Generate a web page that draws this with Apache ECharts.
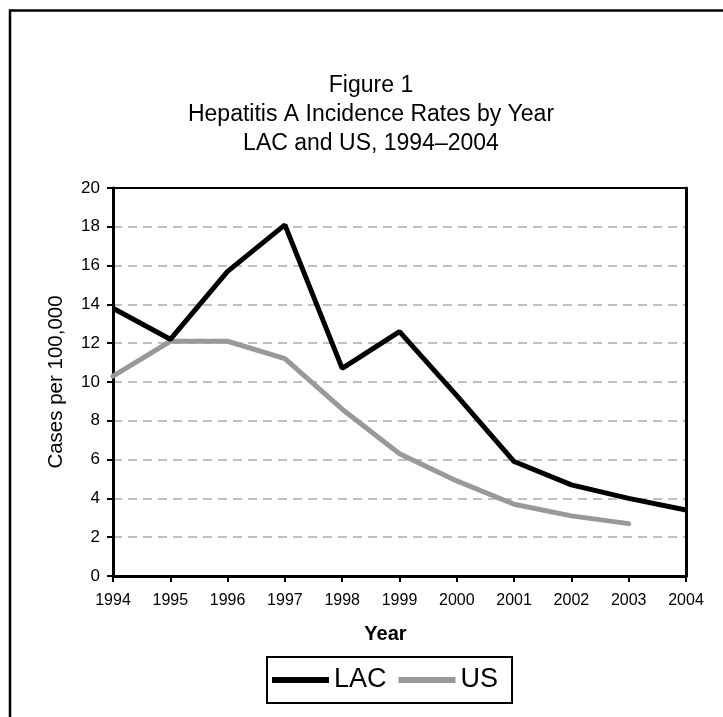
<!DOCTYPE html>
<html>
<head>
<meta charset="utf-8">
<script src="https://cdn.jsdelivr.net/npm/echarts@6/dist/echarts.min.js"></script>
<style>
  html, body { margin: 0; padding: 0; background: #fff; }
  #chart { width: 723px; height: 717px; }
</style>
</head>
<body>
<div id="chart"></div>
<script>
const years = ['1994', '1995', '1996', '1997', '1998', '1999', '2000', '2001', '2002', '2003', '2004']
const lacRates = [13.8, 12.2, 15.7, 18.1, 10.7, 12.6, 9.3, 5.9, 4.7, 4.0, 3.4]
const usRates = [10.3, 12.1, 12.1, 11.2, 8.6, 6.3, 4.9, 3.7, 3.1, 2.7, null]
const titleLines = ['Figure 1', 'Hepatitis A Incidence Rates by Year', 'LAC and US, 1994\u20132004']

const font = 'Liberation Sans, Arial, sans-serif'
const chart = echarts.init(document.getElementById('chart'))

const option = {
  animation: false,
  backgroundColor: '#fff',
  textStyle: { fontFamily: font },
  title: {
    text: titleLines.join('\n'),
    left: 371,
    textAlign: 'center',
    top: 71,
    padding: 0,
    textStyle: { fontSize: 23, fontWeight: 'normal', color: '#000', lineHeight: 29, fontFamily: font }
  },
  graphic: [
    {
      type: 'rect',
      shape: { x: 10, y: 10.5, width: 730, height: 730 },
      style: { fill: 'none', stroke: '#000', lineWidth: 2.5 }
    }
  ],
  legend: {
    left: 267,
    top: 657,
    padding: [8, 14, 8, 5],
    borderColor: '#000',
    borderWidth: 2,
    itemWidth: 57,
    itemHeight: 6,
    itemGap: 12,
    icon: 'rect',
    textStyle: { fontSize: 27, lineHeight: 30, color: '#000', fontFamily: font },
    data: ['LAC', 'US']
  },
  grid: {
    left: 113,
    right: 37,
    top: 188,
    bottom: 141,
    show: false
  },
  xAxis: [
    {
      type: 'category',
      data: years,
      boundaryGap: false,
      name: 'Year',
      nameLocation: 'middle',
      nameGap: 48,
      nameTextStyle: { fontSize: 20, fontWeight: 'bold', color: '#000', fontFamily: font, padding: [0, 0, 0, -28] },
      axisLine: { lineStyle: { color: '#000', width: 3 } },
      axisTick: { show: true, length: 6, lineStyle: { color: '#000', width: 2 } },
      axisLabel: { fontSize: 16, color: '#000', margin: 17 },
      splitLine: { show: false },
      z: 5
    },
    {
      type: 'category',
      data: years,
      boundaryGap: false,
      position: 'top',
      axisLine: { show: true, onZero: false, lineStyle: { color: '#000', width: 2 } },
      axisTick: { show: false },
      axisLabel: { show: false },
      splitLine: { show: false },
      z: 5
    }
  ],
  yAxis: [
    {
      type: 'value',
      min: 0,
      max: 20,
      interval: 2,
      name: 'Cases per 100,000',
      nameLocation: 'middle',
      nameGap: 46,
      nameTextStyle: { fontSize: 20.5, color: '#000', fontFamily: font },
      axisLine: { show: true, lineStyle: { color: '#000', width: 3 } },
      axisTick: { show: true, length: 6, lineStyle: { color: '#000', width: 2 } },
      axisLabel: { fontSize: 17, color: '#000', margin: 13 },
      splitLine: {
        show: true,
        lineStyle: { color: '#c0c0c0', width: 2, type: [9, 6] }
      },
      z: 1
    },
    {
      type: 'value',
      min: 0,
      max: 20,
      interval: 2,
      position: 'right',
      axisLine: { show: true, onZero: false, lineStyle: { color: '#000', width: 3 } },
      axisTick: { show: false },
      axisLabel: { show: false },
      splitLine: { show: false },
      z: 5
    }
  ],
  series: [
    {
      name: 'LAC',
      type: 'line',
      data: lacRates,
      showSymbol: false,
      color: '#000',
      lineStyle: { color: '#000', width: 5 },
      z: 3
    },
    {
      name: 'US',
      type: 'line',
      data: usRates,
      showSymbol: false,
      color: '#999999',
      lineStyle: { color: '#999999', width: 5, cap: 'round' },
      z: 2
    }
  ]
}

chart.setOption(option)
</script>
</body>
</html>
